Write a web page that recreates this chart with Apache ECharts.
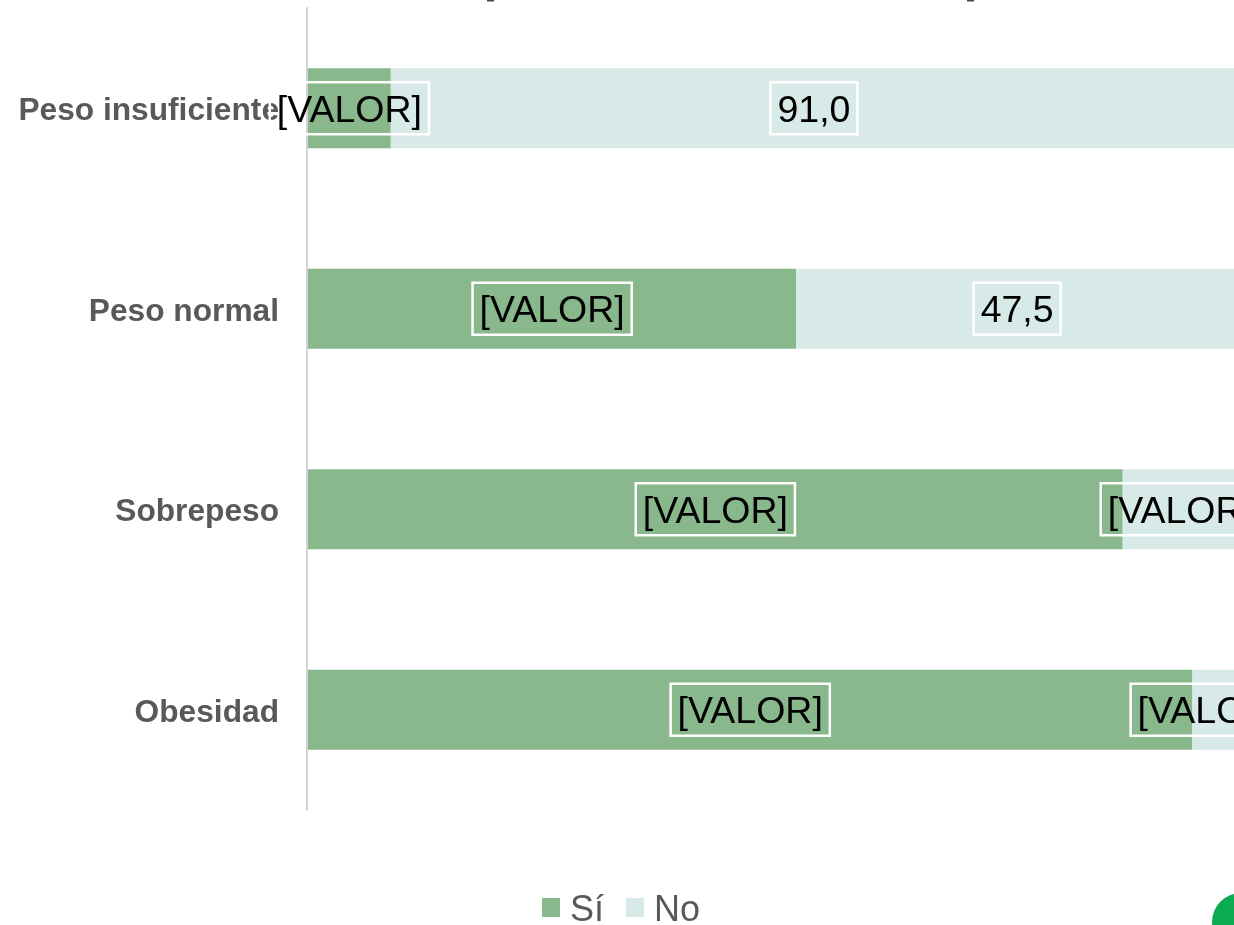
<!DOCTYPE html>
<html>
<head>
<meta charset="utf-8">
<title>Peso y respuesta</title>
<script src="https://cdn.jsdelivr.net/npm/echarts@6/dist/echarts.min.js"></script>
<style>
  html, body { margin: 0; padding: 0; background: #fff; overflow: hidden; }
  /* the original runs past the right edge of the window, so the chart is wider than the page */
  #chart { width: 1300px; height: 925px; }
</style>
</head>
<body>
<div id="chart"></div>
<script>
const categories = ["Peso insuficiente", "Peso normal", "Sobrepeso", "Obesidad"];
const siValues = [8.9, 52.5, 87.6, 95.1];
const noValues = [91.0, 47.5, 12.4, 4.9];
const siLabels = ["[VALOR]", "[VALOR]", "[VALOR]", "[VALOR]"];
const noLabels = ["91,0", "47,5", "[VALOR]", "[VALOR]"];

const FONT = '"Liberation Sans", Arial, sans-serif';

// rich text, because plain labels ignore uneven padding when centring the text in its box
function barLabel(texts) {
  return {
    show: true,
    position: "inside",
    formatter: (p) => "{v|" + texts[p.dataIndex] + "}",
    rich: { v: { fontFamily: FONT, fontSize: 37.5, color: "#000", lineHeight: 40 } },
    borderColor: "#fff",
    borderWidth: 2.5,
    padding: [9, 7, 3, 7],
  };
}

const myChart = echarts.init(document.getElementById("chart"), null, { renderer: "canvas" });

myChart.setOption({
  animation: false,
  backgroundColor: "#fff",
  grid: { left: 308, width: 930, top: 8, height: 802, containLabel: false },
  xAxis: { type: "value", min: 0, max: 100, show: false },
  yAxis: {
    type: "category",
    inverse: true,
    offset: 1,
    data: categories,
    axisTick: { show: false },
    axisLine: { onZero: false, lineStyle: { color: "#d4d4d4", width: 2 } },
    axisLabel: {
      margin: 28,
      formatter: "{c|{value}}",
      padding: [7, 0, 0, 0],
      rich: {
        c: { fontFamily: FONT, fontSize: 31.7, fontWeight: "bold", color: "#595959" },
      },
    },
  },
  legend: {
    left: 542,
    top: 893,
    padding: 0,
    icon: "rect",
    itemWidth: 18,
    itemHeight: 19,
    itemGap: 22,
    formatter: "{t|{name}}",
    textStyle: {
      padding: [7, 0, 0, 5],
      rich: { t: { fontFamily: FONT, fontSize: 36, color: "#595959" } },
    },
    data: ["Sí", "No"],
  },
  series: [
    {
      name: "Sí",
      type: "bar",
      stack: "total",
      barWidth: 80,
      data: siValues,
      itemStyle: { color: "#88b88c" },
      label: barLabel(siLabels),
    },
    {
      name: "No",
      type: "bar",
      stack: "total",
      barWidth: 80,
      data: noValues.map((v, i) => (i === 3 ? { value: v, label: { offset: [-5, 0] } } : v)),
      itemStyle: { color: "#d8eae7" },
      label: barLabel(noLabels),
    },
  ],
  graphic: [
    { type: "circle", shape: { cx: 1241, cy: 922, r: 29 }, style: { fill: "#0bab52" } },
    // bottoms of the cut-off title's brackets at the top edge
    { type: "rect", shape: { x: 487, y: 0, width: 7, height: 1.5 }, style: { fill: "#444" } },
    { type: "rect", shape: { x: 967, y: 0, width: 7, height: 1.5 }, style: { fill: "#444" } },
  ],
});
</script>
</body>
</html>
